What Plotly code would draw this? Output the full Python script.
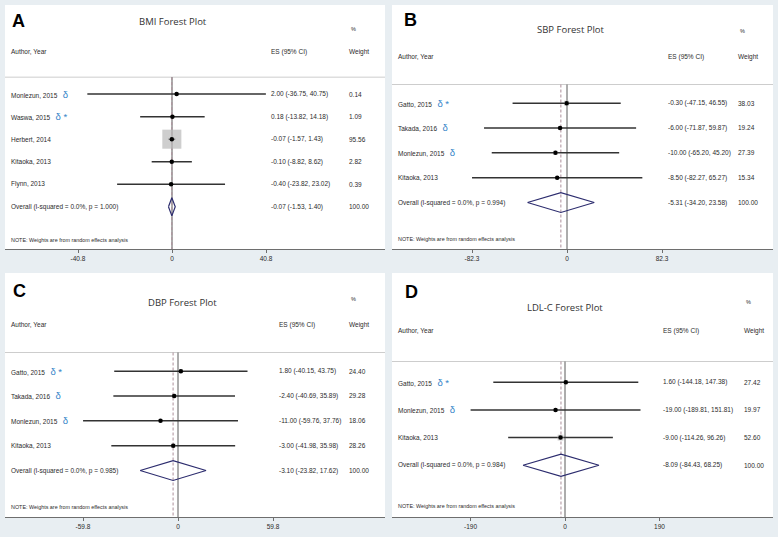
import plotly.graph_objects as go

W, H = 778, 537

# ---- data ----
bmi_study = ["Monlezun, 2015", "Waswa, 2015", "Herbert, 2014", "Kitaoka, 2013", "Flynn, 2013"]
bmi_mark = ["δ", "δ *", "", "", ""]
bmi_es = [2.00, 0.18, -0.07, -0.10, -0.40]
bmi_lo = [-36.75, -13.82, -1.57, -8.82, -23.82]
bmi_hi = [40.75, 14.18, 1.43, 8.62, 23.02]
bmi_weight = [0.14, 1.09, 95.56, 2.82, 0.39]
bmi_overall = [-0.07, -1.53, 1.40]
bmi_p = "1.000"
bmi_ticks = [-40.8, 0, 40.8]
bmi_tick_text = ["-40.8", "0", "40.8"]

sbp_study = ["Gatto, 2015", "Takada, 2016", "Monlezun, 2015", "Kitaoka, 2013"]
sbp_mark = ["δ *", "δ", "δ", ""]
sbp_es = [-0.30, -6.00, -10.00, -8.50]
sbp_lo = [-47.15, -71.87, -65.20, -82.27]
sbp_hi = [46.55, 59.87, 45.20, 65.27]
sbp_weight = [38.03, 19.24, 27.39, 15.34]
sbp_overall = [-5.31, -34.20, 23.58]
sbp_p = "0.994"
sbp_ticks = [-82.3, 0, 82.3]
sbp_tick_text = ["-82.3", "0", "82.3"]

dbp_study = ["Gatto, 2015", "Takada, 2016", "Monlezun, 2015", "Kitaoka, 2013"]
dbp_mark = ["δ *", "δ", "δ", ""]
dbp_es = [1.80, -2.40, -11.00, -3.00]
dbp_lo = [-40.15, -40.69, -59.76, -41.98]
dbp_hi = [43.75, 35.89, 37.76, 35.98]
dbp_weight = [24.40, 29.28, 18.06, 28.26]
dbp_overall = [-3.10, -23.82, 17.62]
dbp_p = "0.985"
dbp_ticks = [-59.8, 0, 59.8]
dbp_tick_text = ["-59.8", "0", "59.8"]

ldl_study = ["Gatto, 2015", "Monlezun, 2015", "Kitaoka, 2013"]
ldl_mark = ["δ *", "δ", ""]
ldl_es = [1.60, -19.00, -9.00]
ldl_lo = [-144.18, -189.81, -114.26]
ldl_hi = [147.38, 151.81, 96.26]
ldl_weight = [27.42, 19.97, 52.60]
ldl_overall = [-8.09, -84.43, 68.25]
ldl_p = "0.984"
ldl_ticks = [-190, 0, 190]
ldl_tick_text = ["-190", "0", "190"]

overall_weight = 100.00

# ---- layout of each panel (pixels in the 778x537 page) ----
panels = [
    dict(letter="A", title="BMI Forest Plot", study=bmi_study, mark=bmi_mark, es=bmi_es,
         lo=bmi_lo, hi=bmi_hi, wt=bmi_weight, overall=bmi_overall, p=bmi_p,
         ticks=bmi_ticks, tick_text=bmi_tick_text,
         rect=(5, 385, 5, 249), zero_px=172, tick_px=94, es_col=264, wt_col=342,
         title_xy=(173, 22), letter_xy=(10, 21), box_scale=1.95),
    dict(letter="B", title="SBP Forest Plot", study=sbp_study, mark=sbp_mark, es=sbp_es,
         lo=sbp_lo, hi=sbp_hi, wt=sbp_weight, overall=sbp_overall, p=sbp_p,
         ticks=sbp_ticks, tick_text=sbp_tick_text,
         rect=(392, 773, 5, 249), zero_px=567, tick_px=95, es_col=274, wt_col=344,
         title_xy=(571, 29), letter_xy=(402, 20), box_scale=0.8),
    dict(letter="C", title="DBP Forest Plot", study=dbp_study, mark=dbp_mark, es=dbp_es,
         lo=dbp_lo, hi=dbp_hi, wt=dbp_weight, overall=dbp_overall, p=dbp_p,
         ticks=dbp_ticks, tick_text=dbp_tick_text,
         rect=(5, 385, 273, 517), zero_px=178, tick_px=95, es_col=272, wt_col=342,
         title_xy=(182, 302), letter_xy=(11, 291), box_scale=0.8),
    dict(letter="D", title="LDL-C Forest Plot", study=ldl_study, mark=ldl_mark, es=ldl_es,
         lo=ldl_lo, hi=ldl_hi, wt=ldl_weight, overall=ldl_overall, p=ldl_p,
         ticks=ldl_ticks, tick_text=ldl_tick_text,
         rect=(392, 773, 273, 517), zero_px=565, tick_px=94.5, es_col=269, wt_col=350,
         title_xy=(565, 307), letter_xy=(403, 292), box_scale=0.8),
]

FONT = "Liberation Sans, Arial, sans-serif"
TXT = "#2b2b2b"
BLUE = "#3584c8"
ROW_TOP = -3.95
ROW_BOT = 1.87
SEP = -0.75

fig = go.Figure()
annotations = []
shapes = []
layout = {}


def ci_text(e, l, h):
    return "%.2f (%.2f, %.2f)" % (e, l, h)


for k, p in enumerate(panels, start=1):
    xa = "x" if k == 1 else "x%d" % k
    ya = "y" if k == 1 else "y%d" % k
    L, R, T, B = p["rect"]
    n = len(p["study"])
    ppu = p["tick_px"] / p["ticks"][-1]
    bottom = n + ROW_BOT

    layout["xaxis" if k == 1 else "xaxis%d" % k] = dict(
        domain=[L / W, R / W], anchor=ya,
        range=[(L - p["zero_px"]) / ppu, (R - p["zero_px"]) / ppu],
        showgrid=False, zeroline=False, showline=True, linecolor="#6e6e6e", linewidth=1,
        ticks="outside", ticklen=3, tickcolor="#6e6e6e", tickwidth=1,
        tickvals=p["ticks"], ticktext=p["tick_text"],
        tickfont=dict(family=FONT, size=6.5, color=TXT), fixedrange=True,
    )
    layout["yaxis" if k == 1 else "yaxis%d" % k] = dict(
        domain=[1 - B / H, 1 - T / H], anchor=xa,
        range=[bottom, ROW_TOP], visible=False, fixedrange=True,
    )

    rows = list(range(n))
    est, olo, ohi = p["overall"]

    # reference lines
    shapes.append(dict(type="line", xref="%s domain" % xa, yref=ya, x0=0, x1=1, y0=SEP, y1=SEP,
                       line=dict(color="#cdcdcd", width=1), layer="below"))
    shapes.append(dict(type="line", xref=xa, yref=ya, x0=0, x1=0, y0=SEP, y1=bottom,
                       line=dict(color="#5a5a5a", width=1), layer="below"))
    shapes.append(dict(type="line", xref=xa, yref=ya, x0=est, x1=est, y0=SEP, y1=bottom,
                       line=dict(color="#ad8f9a", width=1, dash="3px,2px"), layer="below"))

    # confidence intervals
    cx, cy = [], []
    for i in rows:
        cx += [p["lo"][i], p["hi"][i], None]
        cy += [i, i, None]
    fig.add_trace(go.Scatter(x=cx, y=cy, mode="lines", xaxis=xa, yaxis=ya,
                             line=dict(color="#333333", width=1.5), hoverinfo="skip",
                             showlegend=False))
    # weight boxes
    fig.add_trace(go.Scatter(x=p["es"], y=rows, mode="markers", xaxis=xa, yaxis=ya,
                             marker=dict(symbol="square", color="#b9b9b9",
                                         size=[p["box_scale"] * w ** 0.5 for w in p["wt"]],
                                         line=dict(width=0)),
                             hoverinfo="skip", showlegend=False))
    # point estimates
    fig.add_trace(go.Scatter(x=p["es"], y=rows, mode="markers", xaxis=xa, yaxis=ya,
                             marker=dict(symbol="circle", color="black", size=4.5),
                             showlegend=False))
    # pooled diamond
    fig.add_trace(go.Scatter(x=[olo, est, ohi, est, olo], y=[n, n - 0.4, n, n + 0.4, n],
                             mode="lines", xaxis=xa, yaxis=ya,
                             line=dict(color="#2c2c6e", width=1.2), hoverinfo="skip",
                             showlegend=False))

    width = R - L

    def colx(px):
        return px / width

    def add_row_text(txt, px, row, size=6.5, anchor="left"):
        annotations.append(dict(text=txt, xref="%s domain" % xa, yref=ya, x=colx(px), y=row,
                                xanchor=anchor, yanchor="middle", showarrow=False,
                                font=dict(family=FONT, size=size, color=TXT)))

    # header
    add_row_text("Author, Year", 4, -1.87)
    add_row_text("ES (95% CI)", p["es_col"], -1.87)
    add_row_text("Weight", p["wt_col"], -1.87)
    add_row_text("%", p["wt_col"] + 2, -2.9, size=5.5)

    for i in rows:
        label = p["study"][i]
        if p["mark"][i]:
            label += "&nbsp;&nbsp;&nbsp;<span style='color:%s;font-size:9.5px'>%s</span>" % (BLUE, p["mark"][i])
        add_row_text(label, 4, i)
        add_row_text(ci_text(p["es"][i], p["lo"][i], p["hi"][i]), p["es_col"], i)
        add_row_text("%.2f" % p["wt"][i], p["wt_col"], i)

    add_row_text("Overall (I-squared = 0.0%%, p = %s)" % p["p"], 4, n)
    add_row_text(ci_text(est, olo, ohi), p["es_col"], n)
    add_row_text("%.2f" % overall_weight, p["wt_col"], n)
    add_row_text("NOTE: Weights are from random effects analysis", 4, n + 1.48, size=5.4)

    # title and panel letter
    tx, ty = p["title_xy"]
    annotations.append(dict(text=p["title"], xref="paper", yref="paper", x=tx / W, y=1 - ty / H,
                            xanchor="center", yanchor="middle", showarrow=False,
                            font=dict(family="Open Sans, sans-serif", size=9.5, color="#333333")))
    lx, ly = p["letter_xy"]
    annotations.append(dict(text="<b>%s</b>" % p["letter"], xref="paper", yref="paper",
                            x=lx / W, y=1 - ly / H, xanchor="left", yanchor="middle",
                            showarrow=False,
                            font=dict(family=FONT, size=18, color="black")))

fig.update_layout(
    width=W, height=H, margin=dict(l=0, r=0, t=0, b=0),
    paper_bgcolor="#e8eef2", plot_bgcolor="white",
    showlegend=False, annotations=annotations, shapes=shapes, **layout,
)

fig.write_html("out.html", config={"displayModeBar": False},
               post_script="document.body.style.margin='0';"
                           "document.body.style.overflow='hidden';")
